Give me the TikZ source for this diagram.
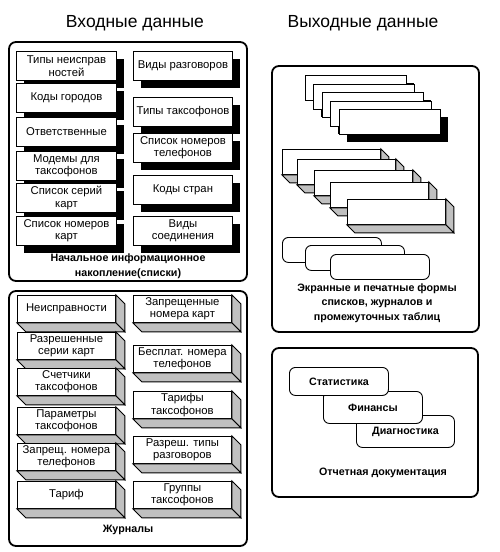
\documentclass[tikz,border=0pt]{standalone}
\usepackage{fontspec}
\setmainfont{Liberation Sans}
\usetikzlibrary{shadows,calc}

\definecolor{facegray}{RGB}{192,192,192}

\tikzset{
    boxfont/.style={font=\fontsize{11.3}{12.5}\selectfont},
    panel/.style={draw, line width=1.8pt, rounded corners=7pt},
    title/.style={font=\fontsize{17.5}{20}\selectfont, anchor=base},
    caption/.style={font=\bfseries\fontsize{10.7}{14.5}\selectfont, align=center},
    shadowbox/.style={draw, fill=white, line width=0.9pt, inner sep=0pt,
        minimum width=100pt, minimum height=29pt, anchor=north west,
        align=center, boxfont,
        drop shadow={shadow xshift=8pt, shadow yshift=-8pt, fill=black, opacity=1}},
    cubebox/.style={draw, fill=white, line width=0.9pt, inner sep=0pt,
        minimum width=98pt, minimum height=27pt, anchor=north west,
        align=center, boxfont},
    cubeface/.style={draw, fill=facegray, line width=0.9pt},
    roundbox/.style={draw, fill=white, line width=0.9pt, rounded corners=6pt,
        inner sep=0pt, minimum width=99pt, minimum height=25pt,
        anchor=north west, font=\bfseries\fontsize{10.7}{12}\selectfont}
}

\begin{document}
\begin{tikzpicture}[x=1pt, y=-1pt]

    \useasboundingbox (0,0) rectangle (499,552);

    %% Titles
    \node[title] (inTitle) at (135,27) {Входные данные};
    \node[title] (outTitle) at (363,27) {Выходные данные};

    %% Input data: lists

    % Frame
    \draw[panel] (9,42) rectangle (247,281);

    % Left column
    \foreach \n/\y/\txt in {1/51/{Типы неисправ\\ностей}, 2/83/{Коды городов},
            3/117/{Ответственные}, 4/151/{Модемы для\\таксофонов},
            5/183/{Список серий\\карт}, 6/216/{Список номеров\\карт}}
        \node[shadowbox] (listL\n) at (16,\y) {\txt};

    % Right column
    \foreach \n/\y/\txt in {1/51/{Виды разговоров}, 2/97/{Типы таксофонов},
            3/133/{Список номеров\\телефонов}, 4/175/{Коды стран},
            5/216/{Виды\\соединения}}
        \node[shadowbox, minimum width=99pt] (listR\n) at (133,\y) {\txt};

    \node[caption] (listCap) at (128,266) {Начальное информационное\\накопление(списки)};

    %% Input data: journals

    % Frame
    \draw[panel] (9,291) rectangle (247,546);

    % Left column
    \foreach \n/\y/\txt in {1/295/{Неисправности}, 2/332/{Разрешенные\\серии карт},
            3/368/{Счетчики\\таксофонов}, 4/407/{Параметры\\таксофонов},
            5/443/{Запрещ. номера\\телефонов}, 6/481/{Тариф}} {
        \node[cubebox] (logL\n) at (17,\y) {\txt};
        \filldraw[cubeface] (logL\n.north east) -- ++(9,9)
            -- ($(logL\n.south east)+(9,9)$) -- (logL\n.south east) -- cycle;
        \filldraw[cubeface] (logL\n.south west) -- (logL\n.south east)
            -- ($(logL\n.south east)+(9,9)$) -- ($(logL\n.south west)+(9,9)$) -- cycle;
    }

    % Right column
    \foreach \n/\y/\txt in {1/295/{Запрещенные\\номера карт}, 2/345/{Бесплат. номера\\телефонов},
            3/391/{Тарифы\\таксофонов}, 4/436/{Разреш. типы\\разговоров},
            5/481/{Группы\\таксофонов}} {
        \node[cubebox] (logR\n) at (133,\y) {\txt};
        \filldraw[cubeface] (logR\n.north east) -- ++(9,9)
            -- ($(logR\n.south east)+(9,9)$) -- (logR\n.south east) -- cycle;
        \filldraw[cubeface] (logR\n.south west) -- (logR\n.south east)
            -- ($(logR\n.south east)+(9,9)$) -- ($(logR\n.south west)+(9,9)$) -- cycle;
    }

    \node[caption] (logCap) at (128,530) {Журналы};

    %% Output data: screen and print forms

    % Frame
    \draw[panel] (272,66) rectangle (479,332);

    % Pages
    \foreach \n/\x/\y in {1/305/75, 2/313/84, 3/322/92, 4/330/101, 5/339/109}
        \node[shadowbox, minimum width=101pt, minimum height=25pt] (page\n) at (\x,\y) {};

    % Tables
    \foreach \n/\x/\y in {1/282/149, 2/297/159, 3/314/170, 4/330/182, 5/347/199} {
        \node[cubebox, minimum height=25pt] (table\n) at (\x,\y) {};
        \filldraw[cubeface] (table\n.north east) -- ++(8,8)
            -- ($(table\n.south east)+(8,8)$) -- (table\n.south east) -- cycle;
        \filldraw[cubeface] (table\n.south west) -- (table\n.south east)
            -- ($(table\n.south east)+(8,8)$) -- ($(table\n.south west)+(8,8)$) -- cycle;
    }

    % Forms
    \foreach \n/\x/\y in {1/282/237, 2/305/245, 3/330/254}
        \node[roundbox] (form\n) at (\x,\y) {};

    \node[caption] (formCap) at (377,303) {Экранные и печатные формы\\списков, журналов и\\промежуточных таблиц};

    %% Output data: reports

    % Frame
    \draw[panel] (272,348) rectangle (478,497);

    % Reports (last one lies below)
    \node[roundbox, minimum width=98pt, minimum height=32pt] (diag) at (356,415) {Диагностика};
    \node[roundbox, minimum height=32pt] (fin) at (323,391) {Финансы};
    \node[roundbox, minimum height=28pt] (stat) at (289,367) {Статистика};

    \node[caption] (repCap) at (383,473) {Отчетная документация};

\end{tikzpicture}
\end{document}
